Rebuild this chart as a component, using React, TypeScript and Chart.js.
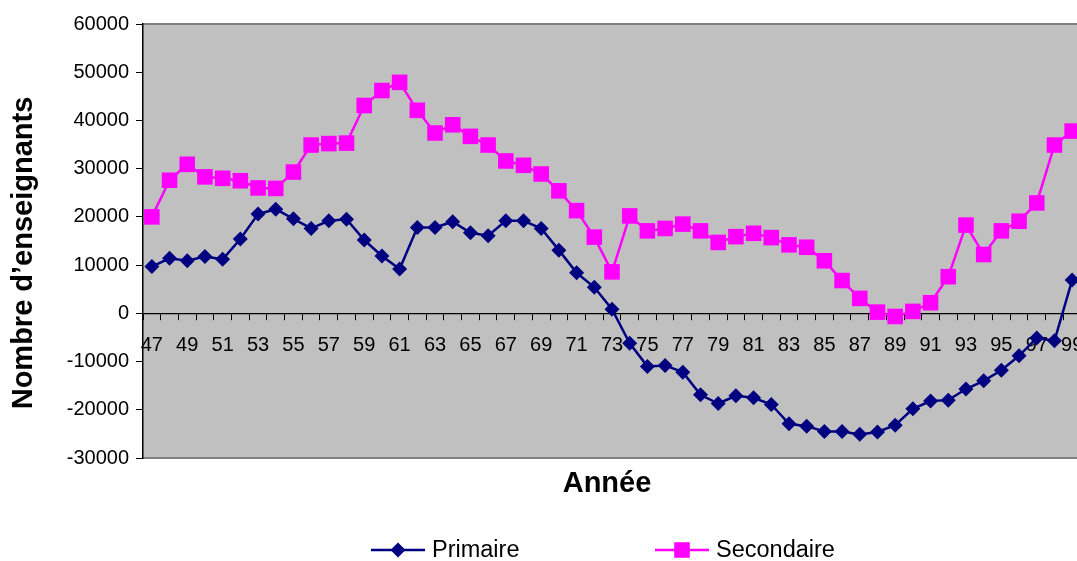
import React, { useEffect, useRef } from 'react';
import { Chart, registerables } from 'chart.js';

Chart.register(...registerables);

const years = [
  '47', '48', '49', '50', '51', '52', '53', '54', '55', '56',
  '57', '58', '59', '60', '61', '62', '63', '64', '65', '66',
  '67', '68', '69', '70', '71', '72', '73', '74', '75', '76',
  '77', '78', '79', '80', '81', '82', '83', '84', '85', '86',
  '87', '88', '89', '90', '91', '92', '93', '94', '95', '96',
  '97', '98', '99',
];

const primaire = [
  9700, 11400, 10900, 11800, 11200, 15400, 20600, 21600, 19600, 17600,
  19200, 19500, 15200, 11900, 9200, 17800, 17800, 19000, 16700, 16100,
  19200, 19200, 17600, 13100, 8400, 5400, 860, -6200, -11000, -10800,
  -12200, -16900, -18700, -17100, -17500, -18900, -22900, -23400, -24500, -24500,
  -25100, -24600, -23200, -19800, -18200, -18000, -15700, -14000, -11800, -8800,
  -5100, -5700, 6900,
];

const secondaire = [
  20000, 27600, 30900, 28300, 28000, 27500, 26000, 25900, 29300, 34900,
  35200, 35300, 43100, 46200, 47900, 42100, 37400, 39100, 36700, 34900,
  31600, 30700, 28900, 25400, 21300, 15800, 8600, 20200, 17100, 17600,
  18500, 17100, 14700, 15900, 16600, 15700, 14200, 13700, 10900, 6800,
  3100, 250, -650, 400, 2200, 7600, 18300, 12200, 17100, 19100,
  22900, 34900, 37800,
];

const yMin = -30000;
const yMax = 60000;
const yStep = 10000;

const xTitle = 'Année';
const yTitle = 'Nombre d’enseignants';

const FONT = '"Liberation Sans", Arial, sans-serif';

const plotBg = {
  id: 'plotBg',
  beforeDraw(chart: any) {
    const { ctx, chartArea: a } = chart;
    ctx.save();
    ctx.fillStyle = '#C0C0C0';
    ctx.fillRect(a.left, a.top, a.right - a.left, a.bottom - a.top);
    ctx.strokeStyle = '#808080';
    ctx.lineWidth = 2;
    ctx.beginPath();
    ctx.moveTo(a.left, a.top);
    ctx.lineTo(a.right, a.top);
    ctx.moveTo(a.left, a.bottom);
    ctx.lineTo(a.right, a.bottom);
    ctx.moveTo(a.right, a.top);
    ctx.lineTo(a.right, a.bottom);
    ctx.stroke();
    ctx.restore();
  },
};

const axisTitles = {
  id: 'axisTitles',
  afterDraw(chart: any) {
    const { ctx } = chart;
    ctx.save();
    ctx.fillStyle = '#000000';
    ctx.font = `bold 29px ${FONT}`;
    ctx.textAlign = 'center';
    ctx.textBaseline = 'middle';
    ctx.fillText(xTitle, 607, 484);
    ctx.translate(24, 253);
    ctx.rotate(-Math.PI / 2);
    ctx.fillText(yTitle, 0, 0);
    ctx.restore();
  },
};

const legendStarts = [371, 655];

const excelLegend = {
  id: 'excelLegend',
  afterDraw(chart: any) {
    const { ctx } = chart;
    const y = 550;
    ctx.save();
    chart.data.datasets.forEach((ds: any, i: number) => {
      const x0 = legendStarts[i];
      const cx = x0 + 27;
      ctx.strokeStyle = ds.borderColor;
      ctx.lineWidth = ds.borderWidth;
      ctx.beginPath();
      ctx.moveTo(x0, y);
      ctx.lineTo(x0 + 54, y);
      ctx.stroke();
      ctx.fillStyle = ds.pointBackgroundColor;
      ctx.beginPath();
      if (ds.pointStyle === 'rectRot') {
        const r = ds.pointRadius;
        ctx.moveTo(cx, y - r);
        ctx.lineTo(cx + r, y);
        ctx.lineTo(cx, y + r);
        ctx.lineTo(cx - r, y);
        ctx.closePath();
      } else {
        const s = ds.pointRadius * Math.SQRT1_2;
        ctx.rect(cx - s, y - s, 2 * s, 2 * s);
      }
      ctx.fill();
      ctx.fillStyle = '#000000';
      ctx.font = `23.5px ${FONT}`;
      ctx.textBaseline = 'middle';
      ctx.textAlign = 'left';
      ctx.fillText(ds.label, x0 + 61, y + 1);
    });
    ctx.restore();
  },
};

export default function App() {
  const ref = useRef<HTMLCanvasElement | null>(null);

  useEffect(() => {
    if (!ref.current) return;
    const chart = new Chart(ref.current, {
      type: 'line',
      data: {
        labels: years,
        datasets: [
          {
            label: 'Primaire',
            data: primaire,
            borderColor: '#000080',
            backgroundColor: '#000080',
            pointBackgroundColor: '#000080',
            pointBorderColor: '#000080',
            pointStyle: 'rectRot',
            pointRadius: 7.5,
            pointBorderWidth: 0,
            borderWidth: 2.5,
            tension: 0,
          },
          {
            label: 'Secondaire',
            data: secondaire,
            borderColor: '#FF00FF',
            backgroundColor: '#FF00FF',
            pointBackgroundColor: '#FF00FF',
            pointBorderColor: '#FF00FF',
            pointStyle: 'rect',
            pointRadius: 11,
            pointBorderWidth: 0,
            borderWidth: 2.5,
            tension: 0,
          },
        ],
      },
      options: {
        responsive: false,
        animation: false,
        layout: { padding: { top: 24, right: 19, left: 0, bottom: 103 } },
        plugins: {
          legend: { display: false },
          tooltip: { enabled: false },
        },
        scales: {
          x: {
            type: 'category',
            position: { y: 0 } as any,
            offset: true,
            grid: {
              display: true,
              drawOnChartArea: false,
              drawTicks: true,
              tickLength: 6,
              color: '#000000',
              offset: true,
            },
            border: { display: true, color: '#000000', width: 1.2 },
            ticks: {
              autoSkip: false,
              maxRotation: 0,
              minRotation: 0,
              padding: 14,
              color: '#000000',
              font: { family: FONT, size: 20 },
              callback: (_v: any, i: number) => (i % 2 === 0 ? years[i] : ''),
            },
          },
          y: {
            type: 'linear',
            position: 'left',
            min: yMin,
            max: yMax,
            grid: {
              display: true,
              drawOnChartArea: false,
              drawTicks: true,
              tickLength: 7,
              color: '#000000',
            },
            border: { display: true, color: '#000000', width: 1.5 },
            ticks: {
              stepSize: yStep,
              padding: 7,
              color: '#000000',
              font: { family: FONT, size: 20 },
              callback: (v: any) => String(v),
            },
            afterFit: (s: any) => {
              s.width = 143;
            },
          },
        },
      },
      plugins: [plotBg, axisTitles, excelLegend],
    });
    return () => chart.destroy();
  }, []);

  return (
    <div
      style={{
        position: 'fixed',
        left: 0,
        top: 0,
        width: 1077,
        height: 561,
        overflow: 'hidden',
        background: '#ffffff',
      }}
    >
      <canvas ref={ref} width={1100} height={561} style={{ display: 'block' }} />
    </div>
  );
}
